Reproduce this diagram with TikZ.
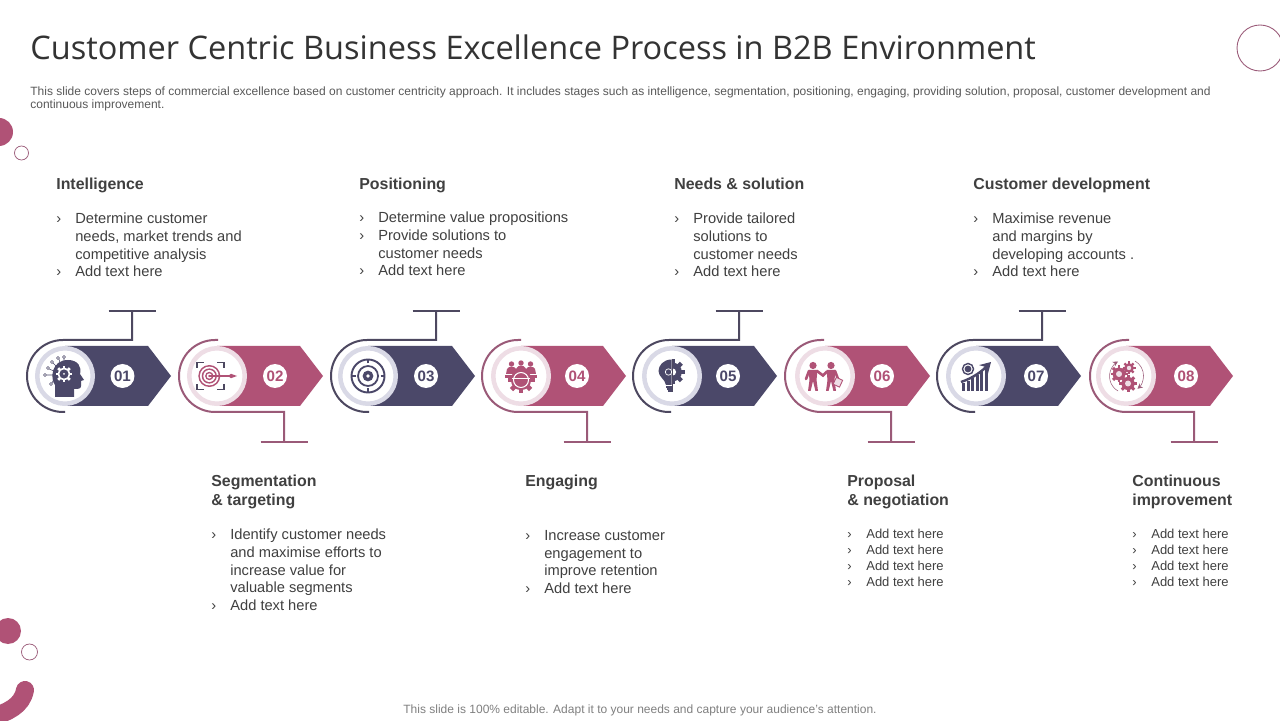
\documentclass[tikz,border=0pt]{standalone}
\usepackage{fontspec}
\setmainfont{Liberation Sans}
\newfontfamily\titlefont{Open Sans}
\usetikzlibrary{arrows.meta,calc,positioning}
\definecolor{inkdark}{HTML}{4B4869}
\definecolor{inkpink}{HTML}{B05276}
\definecolor{linedark}{HTML}{4D4860}
\definecolor{linepink}{HTML}{9A5A78}
\definecolor{ringdark}{HTML}{D9D9E6}
\definecolor{ringpink}{HTML}{EEDDE5}
\definecolor{textmain}{HTML}{404040}
\newcommand{\blt}{\makebox[10.8pt][l]{›}}
\newcommand{\cnt}{\hspace*{10.8pt}}
\tikzset{
  heading/.style   = {font=\fontsize{9.05}{10.8}\selectfont\bfseries, text=textmain,
                      align=left, anchor=north west, inner sep=0pt},
  body/.style      = {font=\fontsize{8.35}{10.03}\selectfont, text=textmain,
                      align=left, anchor=north west, inner sep=0pt},
  smallbody/.style = {font=\fontsize{7.4}{9.07}\selectfont, text=textmain,
                      align=left, anchor=north west, inner sep=0pt},
  darkline/.style  = {line width=0.04cm, draw=linedark},
  pinkline/.style  = {line width=0.04cm, draw=linepink},
  disc/.style      = {circle, fill=white, line width=0.09cm, inner sep=0pt, minimum size=1.11cm},
  numdisc/.style   = {circle, fill=white, inner sep=0pt, minimum size=0.48cm,
                      font=\fontsize{8.6}{10}\selectfont\bfseries},
  gearicon/.pic    = {
    \fill circle[radius=7.5];
    \foreach \a in {0,45,...,315} { \fill[rotate=\a] (-1.7,6.5) rectangle (1.7,10); }
  },
  iconhead/.pic = {
    \fill[inkdark] (-10,-21) -- (-10,-9) .. controls (-15,-3) and (-14,16) .. (3,16)
      .. controls (13,16) and (17,9) .. (15,2) -- (19,-4) -- (16,-5) -- (16,-10)
      .. controls (16,-13) and (13,-13) .. (9,-13) -- (9,-21) -- cycle;
    \pic[fill=white,scale=0.82] at (-1,2) {gearicon};
    \fill[inkdark] (-1,2) circle[radius=4.6];
    \fill[white] (-1,2) circle[radius=1];
    \foreach \px/\py in {-17/8,-20/1,-14/-8,-13/14,-7/18,-1/19}
      { \draw[inkdark,line width=0.3pt,fill=white] (\px,\py) circle[radius=1.5]; }
    \draw[inkdark,line width=0.3pt] (-16,7) -- (-11,5) (-18.5,1) -- (-12,1) (-13,-7) -- (-11,-3)
      (-12,13) -- (-9,10) (-6,17) -- (-5,13) (-1,17.5) -- (-1,14);
  },
  icontarget/.pic = {
    \foreach \r/\c in {11/inkpink,9.4/white,7.6/inkpink,6/white,4.2/inkpink,2.6/white}
      { \fill[\c] (-7.7,0) circle[radius=\r]; }
    \fill[inkpink] (-7.7,0) circle[radius=1.2];
    \draw[inkpink,line width=0.8pt] (-7.7,0) -- (14,0);
    \fill[inkpink] (11,0) -- (14,-2.2) -- (20,0) -- (14,2.2) -- cycle;
    \draw[linedark,line width=0.7pt] (-20,8) |- (-13,13.5) (0,13.5) -| (7,8)
      (7,-8) |- (0,-13.5) (-13,-13.5) -| (-20,-8);
  },
  iconscope/.pic = {
    \draw[inkdark,line width=1.1pt] (0,0) circle[radius=16.5];
    \draw[inkdark,line width=1pt] (0,0) circle[radius=10];
    \fill[inkdark] (0,0) circle[radius=5.4];
    \fill[white] (0,0) circle[radius=1.8];
    \draw[inkdark,line width=0.8pt] (0,12.5) -- (0,16) (0,-12.5) -- (0,-16) (12.5,0) -- (16,0) (-12.5,0) -- (-16,0);
  },
  iconteam/.pic = {
    \foreach \hx/\hy in {-9.5/12,0/13,9.5/12} { \fill[inkpink] (\hx,\hy) circle[radius=2.7]; }
    \fill[inkpink] (-14,7) .. controls (-13,10) and (-6,10) .. (-5,7) -- (-4,8.5)
      .. controls (-3,11) and (3,11) .. (4,8.5) -- (5,7) .. controls (6,10) and (13,10) .. (14,7)
      -- (15,2) -- (-15,2) -- cycle;
    \fill[inkpink] (-16,1) rectangle (16,-2);
    \pic[fill=inkpink,scale=1.35] at (0,-4) {gearicon};
    \draw[white,line width=0.6pt] (-9,-2.2) -- (9,-2.2);
    \draw[white,line width=0.6pt] (0,-4) circle[radius=7.5];
  },
  iconbulb/.pic = {
    \fill[inkdark] (-0.5,16.5) .. controls (-9,16.5) and (-13.5,10) .. (-13.5,5)
      .. controls (-13.5,-1) and (-7,-3) .. (-6,-9) -- (-0.5,-9) -- cycle;
    \begin{scope}
      \clip (0.5,-20) rectangle (20,20);
      \pic[fill=inkdark,scale=1.25] at (0.5,4) {gearicon};
      \fill[white] (0.5,4) circle[radius=3.6];
    \end{scope}
    \draw[white,line width=0.4pt] (-3.5,4) circle[radius=3.2];
    \draw[inkdark,line width=0.9pt] (-6,-10.8) -- (1,-10.8) (-5.5,-13) -- (0.5,-13) (-4.5,-15.2) -- (-0.5,-15.2);
    \draw[linedark,line width=0.3pt] (0,17) -- (0,-16);
  },
  iconpeople/.pic = {
    \foreach \hx in {-12,6} { \fill[inkpink] (\hx,10.5) circle[radius=3.6]; }
    \foreach \bx in {-12,6} {
      \fill[inkpink] (\bx-4.5,6) -- (\bx+4.5,6) -- (\bx+3.5,-4) -- (\bx+5,-15) -- (\bx+2.4,-15)
        -- (\bx,-5) -- (\bx-2.4,-15) -- (\bx-5,-15) -- (\bx-3.5,-4) -- cycle;
    }
    \draw[inkpink,line width=1.5pt,line cap=round] (-8,5) -- (-2,0.5) -- (2,4.5)
      (-16,5) -- (-19,-3) (10,5) -- (13,-3);
    \draw[inkpink,fill=ringpink,line width=0.5pt,rotate around={-25:(13,-6)}] (9.5,-10) rectangle (16.5,-2.5);
  },
  iconchart/.pic = {
    \foreach \bx/\bh in {-14/8,-9.5/10,-5/13,-0.5/16,4/20,8.5/23} {
      \fill[inkdark] (\bx,-15) rectangle ++(3.4,\bh);
    }
    \draw[white,line width=2.4pt] (-17,-3) .. controls (-6,0) and (2,4) .. (12,15);
    \draw[inkdark,line width=1.4pt,-{Stealth[length=6pt,width=7pt]}] (-15,-6) .. controls (-6,-3) and (3,2) .. (15,14);
    \draw[inkdark,line width=0.8pt] (-8,7) circle[radius=5.5];
    \fill[inkdark] (-8,7) circle[radius=3.4];
  },
  icongears/.pic = {
    \pic[fill=inkpink,scale=0.85] at (-7,2) {gearicon};
    \pic[fill=inkpink,scale=0.65] at (3,8) {gearicon};
    \pic[fill=inkpink,scale=0.88] at (2,-7.5) {gearicon};
    \foreach \gx/\gy/\gr in {-7/2/3,3/8/2.2,2/-7.5/3} { \fill[ringpink] (\gx,\gy) circle[radius=\gr]; }
    \draw[linepink,line width=0.3pt,-{Stealth[length=3pt,width=3pt]}] (-8,-15) arc[start angle=240,end angle=120,radius=17];
    \draw[linepink,line width=0.3pt,-{Stealth[length=3pt,width=3pt]}] (9,15) arc[start angle=60,end angle=-50,radius=17];
  },
}
\begin{document}
\begin{tikzpicture}[x=0.02cm,y=0.02cm]
  \clip (0,0) rectangle (1280,720);
  \fill[white] (0,0) rectangle (1280,720);

  % ---- corner decoration --------------------------------------------------
  \fill[inkpink] (-1,588) circle[radius=14];
  \draw[linepink,line width=0.4pt] (21.5,567) circle[radius=7];
  \fill[inkpink] (8,89) circle[radius=13];
  \draw[linepink,line width=0.4pt] (29.5,68) circle[radius=8];
  \draw[inkpink,line width=0.36cm,line cap=round] (-8,3) .. controls (8,8) and (22,14) .. (25,30);
  \draw[linepink,line width=0.5pt] (1260,672) circle[radius=23];

  % ---- title and notes ----------------------------------------------------
  \node[anchor=base west,inner sep=0pt,text=black!80,font=\titlefont\fontsize{18.5}{22}\selectfont] (title)
        at (30,660) {Customer Centric Business Excellence Process in B2B Environment};
  \node[anchor=north west,inner sep=0pt,align=left,text=black!65,font=\fontsize{6.83}{7.65}\selectfont] (intro)
        at (30,634) {This slide covers steps of commercial excellence based on customer centricity approach. It includes stages such as intelligence, segmentation, positioning, engaging, providing solution, proposal, customer development and\\continuous improvement.};
  \node[inner sep=0pt,text=black!50,font=\fontsize{6.83}{8}\selectfont] (footer)
        at (640,9.5) {This slide is 100\% editable. Adapt it to your needs and capture your audience's attention.};

  % ---- dark steps, lead going up -------------------------------------------
  \foreach \num/\lft/\cc/\nn/\tip/\stem in {01/27/65/122.5/171/132, 03/331/368/426/475/436,
                                            05/633/672/728/777/739, 07/937/976/1036/1081/1042} {
    \fill[inkdark] (\cc,374) -- (\tip-23,374) -- (\tip,344) -- (\tip-23,314) -- (\cc,314) -- cycle;
    \coordinate (knee\num) at (\stem,380);
    \coordinate (top\num) at (\stem,409);
    \draw[darkline] (\lft+38,308) -- (\lft+36,308) arc[start angle=270,end angle=90,radius=36] -- (knee\num) -- (top\num);
    \draw[darkline] (\stem-23.5,409) -- (\stem+23.5,409);
    \node[disc,draw=ringdark] (disc\num) at (\cc,344) {};
    \node[numdisc,text=inkdark] (num\num) at (\nn,344) {\num};
  }

  % ---- pink steps, lead going down -----------------------------------------
  \foreach \num/\lft/\cc/\nn/\tip/\stem in {02/179/217/275/323/284, 04/482/521/577/626/587,
                                            06/785/825/882/930/891, 08/1090/1126/1186/1233/1194} {
    \fill[inkpink] (\cc,374) -- (\tip-23,374) -- (\tip,344) -- (\tip-23,314) -- (\cc,314) -- cycle;
    \coordinate (knee\num) at (\stem,308);
    \coordinate (foot\num) at (\stem,278);
    \draw[pinkline] (\lft+39,380) -- (\lft+36,380) arc[start angle=90,end angle=270,radius=36] -- (knee\num) -- (foot\num);
    \draw[pinkline] (\stem-23.5,278) -- (\stem+23.5,278);
    \node[disc,draw=ringpink] (disc\num) at (\cc,344) {};
    \node[numdisc,text=inkpink] (num\num) at (\nn,344) {\num};
  }

  % ---- icons ---------------------------------------------------------------
  \pic at (disc01) {iconhead};
  \pic at (disc02) {icontarget};
  \pic at (disc03) {iconscope};
  \pic at (disc04) {iconteam};
  \pic at (disc05) {iconbulb};
  \pic at (disc06) {iconpeople};
  \pic at (disc07) {iconchart};
  \pic at (disc08) {icongears};

  % ---- upper texts ---------------------------------------------------------
  \node[heading] (head01) at (56,542) {Intelligence};
  \node[body] (text01) at (56,507.2) {\blt Determine customer\\\cnt needs, market trends and\\\cnt competitive analysis\\\blt Add text here};
  \node[heading] (head03) at (359,542) {Positioning};
  \node[body] (text03) at (359,508) {\blt Determine value propositions\\\blt Provide solutions to\\\cnt customer needs\\\blt Add text here};
  \node[heading] (head05) at (674,542) {Needs \& solution};
  \node[body] (text05) at (674,507.2) {\blt Provide tailored\\\cnt solutions to\\\cnt customer needs\\\blt Add text here};
  \node[heading] (head07) at (973,542) {Customer development};
  \node[body] (text07) at (973,507.2) {\blt Maximise revenue\\\cnt and margins by\\\cnt developing accounts .\\\blt Add text here};

  % ---- lower texts ---------------------------------------------------------
  \node[heading] (head02) at (211,245) {Segmentation\\\& targeting};
  \node[body] (text02) at (211,191) {\blt Identify customer needs\\\cnt and maximise efforts to\\\cnt increase value for\\\cnt valuable segments\\\blt Add text here};
  \node[heading] (head04) at (525,245) {Engaging};
  \node[body] (text04) at (525,190) {\blt Increase customer\\\cnt engagement to\\\cnt improve retention\\\blt Add text here};
  \node[heading] (head06) at (847,245) {Proposal\\\& negotiation};
  \node[smallbody] (text06) at (847,191) {\blt Add text here\\\blt Add text here\\\blt Add text here\\\blt Add text here};
  \node[heading] (head08) at (1132,245) {Continuous\\improvement};
  \node[smallbody] (text08) at (1132,191) {\blt Add text here\\\blt Add text here\\\blt Add text here\\\blt Add text here};
\end{tikzpicture}
\end{document}
